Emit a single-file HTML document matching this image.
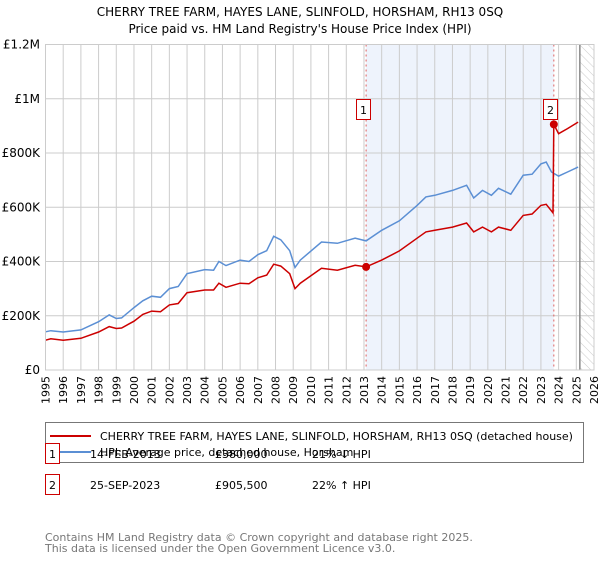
<!DOCTYPE html>
<html><head><meta charset="utf-8"><style>
body{margin:0;background:#fff;font-family:"DejaVu Sans","Liberation Sans",sans-serif;}
svg text{font-family:"DejaVu Sans","Liberation Sans",sans-serif;}
</style></head><body>
<svg id="chart" width="600" height="560" viewBox="0 0 600 560" xmlns="http://www.w3.org/2000/svg">
<defs>
<pattern id="hatch" width="6" height="6" patternUnits="userSpaceOnUse" patternTransform="rotate(-45)">
<line x1="0" y1="0" x2="0" y2="6" stroke="#ccc" stroke-width="1"/>
</pattern>
</defs>
<text x="300" y="16" text-anchor="middle" font-size="12" fill="#000">CHERRY TREE FARM, HAYES LANE, SLINFOLD, HORSHAM, RH13 0SQ</text>
<text x="300" y="33" text-anchor="middle" font-size="12" fill="#000">Price paid vs. HM Land Registry's House Price Index (HPI)</text>
<g id="plot"></g>
<g>
<rect x="45.5" y="422.5" width="538" height="40" fill="#fff" stroke="#777"/>
<line x1="50" y1="436" x2="91" y2="436" stroke="#cc0000" stroke-width="2"/>
<text x="100" y="440" font-size="11">CHERRY TREE FARM, HAYES LANE, SLINFOLD, HORSHAM, RH13 0SQ (detached house)</text>
<line x1="50" y1="452" x2="91" y2="452" stroke="#5b8fd4" stroke-width="2"/>
<text x="100" y="456" font-size="11">HPI: Average price, detached house, Horsham</text>
</g>
<g font-size="11">
<rect x="45.5" y="443.5" width="14" height="20" fill="#fff" stroke="#cc0000"/>
<text x="52.5" y="458" text-anchor="middle">1</text>
<text x="90" y="458">14-FEB-2013</text>
<text x="215" y="458">£380,000</text>
<text x="312" y="458">21% ↓ HPI</text>
<rect x="45.5" y="474.5" width="14" height="20" fill="#fff" stroke="#cc0000"/>
<text x="52.5" y="489" text-anchor="middle">2</text>
<text x="90" y="489">25-SEP-2023</text>
<text x="215" y="489">£905,500</text>
<text x="312" y="489">22% ↑ HPI</text>
</g>
<text x="45" y="541" font-size="11" fill="#777">Contains HM Land Registry data © Crown copyright and database right 2025.</text>
<text x="45" y="552" font-size="11" fill="#777">This data is licensed under the Open Government Licence v3.0.</text>
</svg>
<script>
const hpiYears=[1995,1995.3,1996,1997,1998,1998.6,1999,1999.3,2000,2000.5,2001,2001.5,2002,2002.5,2003,2004,2004.5,2004.8,2005.2,2006,2006.5,2007,2007.5,2007.9,2008.3,2008.8,2009.1,2009.4,2010.6,2011.5,2012.5,2013.12,2014,2015,2016,2016.5,2017,2018,2018.8,2019.2,2019.7,2020.2,2020.6,2021.3,2022,2022.5,2023,2023.3,2023.6,2024,2024.5,2025.1];
const hpiValues=[141000,145000,140000,148000,178000,203000,190000,192000,230000,255000,272000,268000,300000,308000,355000,370000,368000,400000,385000,405000,400000,425000,440000,493000,480000,440000,378000,405000,472000,467000,486000,476000,515000,550000,607000,638000,644000,662000,681000,634000,662000,644000,670000,648000,718000,722000,760000,767000,730000,715000,730000,748000];
const priceYears=[1995,1995.3,1996,1997,1998,1998.6,1999,1999.3,2000,2000.5,2001,2001.5,2002,2002.5,2003,2004,2004.5,2004.8,2005.2,2006,2006.5,2007,2007.5,2007.9,2008.3,2008.8,2009.1,2009.4,2010.6,2011.5,2012.5,2013.12,2014,2015,2016,2016.5,2017,2018,2018.8,2019.2,2019.7,2020.2,2020.6,2021.3,2022,2022.5,2023,2023.3,2023.68,2023.73,2024,2024.5,2025.1];
const priceValues=[110000,115000,110000,117000,140000,160000,153000,155000,180000,205000,217000,215000,240000,245000,285000,295000,295000,320000,305000,320000,318000,340000,350000,390000,383000,355000,300000,320000,375000,368000,386000,380000,405000,439000,486000,509000,515000,527000,542000,509000,527000,509000,527000,515000,570000,575000,607000,611000,579000,905500,871000,890000,914000];
const saleYears=[2013.12,2023.73];
const saleValues=[380000,905500];
const saleLabels=["1","2"];
const yTicks=[0,200000,400000,600000,800000,1000000,1200000];
const yTickLabels=["£0","£200K","£400K","£600K","£800K","£1M","£1.2M"];
const xTicks=[1995,1996,1997,1998,1999,2000,2001,2002,2003,2004,2005,2006,2007,2008,2009,2010,2011,2012,2013,2014,2015,2016,2017,2018,2019,2020,2021,2022,2023,2024,2025,2026];
const dataEnd=2025.2;

const NS="http://www.w3.org/2000/svg";
const L=45.5,R=594,T=44.5,B=370;
const x=v=>L+(v-1995)/(2026-1995)*(R-L);
const y=v=>B-v/1200000*(B-T);
const g=document.getElementById('plot');
function mk(tag,attrs,parent){const e=document.createElementNS(NS,tag);for(const k in attrs)e.setAttribute(k,attrs[k]);(parent||g).appendChild(e);return e;}

let e=mk('rect',{x:x(saleYears[0]),y:T,width:x(saleYears[1])-x(saleYears[0]),height:B-T,fill:'#eef3fc'});


e=mk('rect',{x:x(dataEnd),y:T,width:R-x(dataEnd),height:B-T,fill:'url(#hatch)'});



xTicks.forEach(t=>{
  let l=mk('line',{x1:x(t),x2:x(t),y1:T,y2:B,stroke:'#ccc','stroke-width':1});
  
  
  let tx=mk('text',{x:0,y:0,'font-size':11,'text-anchor':'end',transform:`translate(${x(t)+4},376) rotate(-90)`});
  tx.textContent=t;
  
  
});
yTicks.forEach((t,i)=>{
  let l=mk('line',{x1:L,x2:R,y1:y(t),y2:y(t),stroke:'#ccc','stroke-width':1});
  
  
  let tx=mk('text',{x:40,y:y(t)+4,'font-size':12,'text-anchor':'end'});
  tx.textContent=yTickLabels[i];
  
  
});
e=mk('line',{x1:x(dataEnd),x2:x(dataEnd),y1:T,y2:B,stroke:'#888','stroke-width':1.5});



saleYears.forEach((s,i)=>{
  let l=mk('line',{x1:x(s),x2:x(s),y1:T,y2:B,stroke:'#e06060','stroke-width':1,'stroke-dasharray':'2,3'});
  
  
});

function path(xs,vs){return xs.map((t,i)=>(i?'L':'M')+x(t).toFixed(1)+','+y(vs[i]).toFixed(1)).join('');}
e=mk('path',{d:path(hpiYears,hpiValues),fill:'none',stroke:'#5b8fd4','stroke-width':1.5});


e=mk('path',{d:path(priceYears,priceValues),fill:'none',stroke:'#cc0000','stroke-width':1.5});



saleYears.forEach((s,i)=>{
  let c=mk('circle',{cx:x(s),cy:y(saleValues[i]),r:4,fill:'#cc0000'});
  
  
  let bx=Math.round(x(s)-10.5)+0.5;
  let r=mk('rect',{x:bx,y:99.5,width:14,height:20,fill:'#fff',stroke:'#cc0000'});
  
  
  let t=mk('text',{x:bx+7,y:114,'font-size':11,'text-anchor':'middle'});
  t.textContent=saleLabels[i];
  
  
});
e=mk('rect',{x:L,y:T,width:R-L,height:B-T,fill:'none',stroke:'#ccc'});


</script>
</body></html>
